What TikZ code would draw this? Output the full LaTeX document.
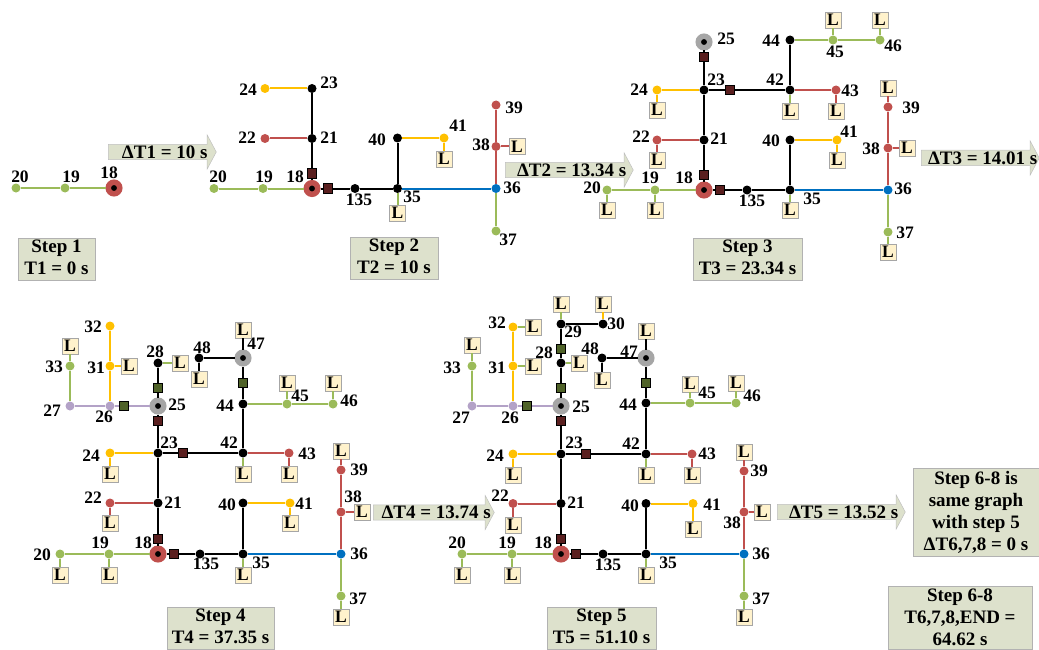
\documentclass[tikz,border=0pt]{standalone}
\usepackage{xcolor}
\usepackage{fontspec}
\setmainfont{Liberation Serif}
\usepackage{tikz}
\usetikzlibrary{shapes.arrows}

\definecolor{wirered}{HTML}{C0504D}
\definecolor{wiregreen}{HTML}{9BBB59}
\definecolor{wireyellow}{HTML}{FFC000}
\definecolor{wireblue}{HTML}{0070C0}
\definecolor{wirepurple}{HTML}{B3A2C7}
\definecolor{hubgray}{HTML}{A6A6A6}
\definecolor{sqred}{HTML}{5A1F1F}
\definecolor{sqgreen}{HTML}{4F6228}
\definecolor{loadfill}{HTML}{FFF2CC}
\definecolor{panelfill}{HTML}{DDE1CC}

\begin{document}
\begin{tikzpicture}[x=1pt, y=-1pt, node distance=49pt]

    \tikzstyle{busk}=[circle, inner sep=0pt, minimum size=9pt, fill=black]
    \tikzstyle{busr}=[busk, fill=wirered]
    \tikzstyle{busg}=[busk, fill=wiregreen]
    \tikzstyle{busy}=[busk, fill=wireyellow]
    \tikzstyle{busb}=[busk, fill=wireblue]
    \tikzstyle{busp}=[busk, fill=wirepurple]
    \tikzstyle{hubr}=[circle, inner sep=0pt, minimum size=11.5pt, line width=5.5pt, fill=black, draw=wirered]
    \tikzstyle{hubg}=[hubr, draw=hubgray]
    \tikzstyle{sqr}=[rectangle, inner sep=0pt, minimum size=9.5pt, line width=1pt, draw=black, fill=sqred]
    \tikzstyle{sqg}=[sqr, fill=sqgreen]
    \tikzstyle{load}=[rectangle, inner sep=0pt, minimum size=16pt, fill=loadfill, draw=black!35, line width=.6pt, font=\fontsize{17.5pt}{20pt}\selectfont\bfseries]
    \tikzstyle{num}=[inner sep=0pt, font=\fontsize{17.5pt}{20pt}\selectfont\bfseries]
    \tikzstyle{stepbox}=[rectangle, inner sep=0pt, fill=panelfill, draw=black!30, line width=.7pt, align=center, font=\fontsize{19pt}{22pt}\selectfont\bfseries]
    \tikzstyle{twoline}=[stepbox, minimum height=42pt, text depth=4pt]
    \tikzstyle{steparrow}=[single arrow, inner sep=0pt, minimum width=34pt, single arrow head extend=8pt, single arrow tip angle=124, fill=panelfill, draw=black!25, line width=.5pt, anchor=tail, font=\fontsize{19pt}{22pt}\selectfont\bfseries, execute at begin node={\hspace*{4.5pt}}, execute at end node={\hspace*{-4.5pt}}]
    \tikzstyle{wk}=[draw=black, line width=2pt]
    \tikzstyle{wr}=[draw=wirered, line width=2pt]
    \tikzstyle{wg}=[draw=wiregreen, line width=2pt]
    \tikzstyle{wy}=[draw=wireyellow, line width=2pt]
    \tikzstyle{wb}=[draw=wireblue, line width=2pt]
    \tikzstyle{wp}=[draw=wirepurple, line width=2pt]

    \useasboundingbox (0,0) rectangle (1039,650);

    % step 1
    \node[hubr] (A18) at (114,188) {};
    \node[busg] (A19) [left of=A18] {};
    \node[busg] (A20) [left of=A19] {};
    \node[num] (TA18) at (109,173) {18};
    \node[num] (TA19) at (71,177) {19};
    \node[num] (TA20) at (20,177) {20};
    \path (A20) edge [wg] (A19);
    \path (A19) edge [wg] (A18);
    \node[twoline, minimum width=77pt] (BOXA) at (56.5,259) {Step 1\\T1 = 0 s};
    \node[steparrow, minimum height=108pt] (ARROWA) at (108,152) {ΔT1 = 10 s};

    % step 2
    \node[hubr] (B18) at (312,188.5) {};
    \node[busg] (B19) [left of=B18] {};
    \node[busg] (B20) [left of=B19] {};
    \node[sqr] (SB18U) [above of=B18, node distance=15pt] {};
    \node[sqr] (SB18R) [right of=B18, node distance=16pt] {};
    \node[busk] (B21) [above of=B18, node distance=50pt] {};
    \node[busk] (B23) [above of=B21, node distance=50pt] {};
    \node[busr] (B22) [left of=B21, node distance=47pt] {};
    \node[busy] (B24) [left of=B23, node distance=47pt] {};
    \node[busk] (B135) [right of=B18, node distance=43pt] {};
    \node[busk] (B35) [right of=B135, node distance=42.5pt] {};
    \node[busb] (B36) [right of=B35, node distance=98.5pt] {};
    \node[busg] (B37) [below of=B36, node distance=42.5pt] {};
    \node[busr] (B38) [above of=B36, node distance=42pt] {};
    \node[busr] (B39) [above of=B38, node distance=41.5pt] {};
    \node[busk] (B40) [above of=B35, node distance=50.5pt] {};
    \node[busy] (B41) [right of=B40, node distance=46.5pt] {};
    \node[load] (LB35) [below of=B35, node distance=24.5pt] {L};
    \node[load] (LB41) [below of=B41, node distance=21pt] {L};
    \node[load] (LB38) [right of=B38, node distance=21pt] {L};
    \node[num] (TB18) at (295,177) {18};
    \node[num] (TB19) at (264,177) {19};
    \node[num] (TB20) at (218,177) {20};
    \node[num] (TB21) at (329,138) {21};
    \node[num] (TB22) at (247,138) {22};
    \node[num] (TB23) at (329,83) {23};
    \node[num] (TB24) at (248,90) {24};
    \node[num] (TB135) at (359,200) {135};
    \node[num] (TB35) at (412,197) {35};
    \node[num] (TB36) at (512,188) {36};
    \node[num] (TB37) at (508,240) {37};
    \node[num] (TB38) at (481,145) {38};
    \node[num] (TB39) at (514,108) {39};
    \node[num] (TB40) at (377,140) {40};
    \node[num] (TB41) at (458,126) {41};
    \path (B20) edge [wg] (B19);
    \path (B19) edge [wg] (B18);
    \path (B18) edge [wk] (SB18U)
                edge [wk] (SB18R);
    \path (SB18U) edge [wk] (B21);
    \path (SB18R) edge [wk] (B135);
    \path (B21) edge [wk] (B23)
                edge [wr] (B22);
    \path (B23) edge [wy] (B24);
    \path (B135) edge [wk] (B35);
    \path (B35) edge [wb] (B36)
                edge [wk] (B40)
                edge [wg] (LB35);
    \path (B40) edge [wy] (B41);
    \path (B41) edge [wy] (LB41);
    \path (B36) edge [wr] (B38)
                edge [wg] (B37);
    \path (B38) edge [wr] (B39)
                edge [wr] (LB38);
    \node[twoline, minimum width=88pt] (BOXB) at (394,258.5) {Step 2\\T2 = 10 s};
    \node[steparrow, minimum height=128pt] (ARROWB) at (505,170) {ΔT2 = 13.34 s};

    % step 3
    \node[hubr] (C18) at (704,190) {};
    \node[busg] (C19) [left of=C18] {};
    \node[busg] (C20) [left of=C19, node distance=48pt] {};
    \node[sqr] (SC18U) [above of=C18, node distance=15pt] {};
    \node[sqr] (SC18R) [right of=C18, node distance=16pt] {};
    \node[busk] (C21) [above of=C18, node distance=50pt] {};
    \node[busk] (C23) [above of=C21, node distance=50pt] {};
    \node[busr] (C22) [left of=C21, node distance=47pt] {};
    \node[busy] (C24) [left of=C23, node distance=47pt] {};
    \node[sqr] (SC25) [above of=C23, node distance=33pt] {};
    \node[hubg] (C25) [above of=C23, node distance=48pt] {};
    \node[sqr] (SC23) [right of=C23, node distance=26pt] {};
    \node[busk] (C42) [right of=C23, node distance=86pt] {};
    \node[busr] (C43) [right of=C42, node distance=46pt] {};
    \node[busk] (C44) [above of=C42, node distance=50pt] {};
    \node[busg] (C45) [right of=C44, node distance=43pt] {};
    \node[busg] (C46) [right of=C45, node distance=47pt] {};
    \node[busk] (C135) [right of=C18, node distance=43pt] {};
    \node[busk] (C35) [right of=C135, node distance=43pt] {};
    \node[busb] (C36) [right of=C35, node distance=98pt] {};
    \node[busg] (C37) [below of=C36, node distance=42pt] {};
    \node[busr] (C38) [above of=C36, node distance=42pt] {};
    \node[busr] (C39) [above of=C38, node distance=41pt] {};
    \node[busk] (C40) [above of=C35, node distance=50pt] {};
    \node[busy] (C41) [right of=C40, node distance=47pt] {};
    \node[load] (LC20) [below of=C20, node distance=20pt] {L};
    \node[load] (LC19) [below of=C19, node distance=20pt] {L};
    \node[load] (LC35) [below of=C35, node distance=20pt] {L};
    \node[load] (LC37) [below of=C37, node distance=20pt] {L};
    \node[load] (LC22) [below of=C22, node distance=20pt] {L};
    \node[load] (LC24) [below of=C24, node distance=20pt] {L};
    \node[load] (LC42) [below of=C42, node distance=21pt] {L};
    \node[load] (LC43) [below of=C43, node distance=21pt] {L};
    \node[load] (LC41) [below of=C41, node distance=20pt] {L};
    \node[load] (LC38) [right of=C38, node distance=19pt] {L};
    \node[load] (LC39) [above of=C39, node distance=19pt] {L};
    \node[load] (LC45) [above of=C45, node distance=20pt] {L};
    \node[load] (LC46) [above of=C46, node distance=20pt] {L};
    \node[num] (TC18) at (684,178) {18};
    \node[num] (TC19) at (650,178) {19};
    \node[num] (TC20) at (592,188) {20};
    \node[num] (TC21) at (719,139) {21};
    \node[num] (TC22) at (641,137) {22};
    \node[num] (TC23) at (716,80) {23};
    \node[num] (TC24) at (639,90) {24};
    \node[num] (TC25) at (726,39) {25};
    \node[num] (TC135) at (752,201) {135};
    \node[num] (TC35) at (812,199) {35};
    \node[num] (TC36) at (903,189) {36};
    \node[num] (TC37) at (905,233) {37};
    \node[num] (TC38) at (871,149) {38};
    \node[num] (TC39) at (911,108) {39};
    \node[num] (TC40) at (771,141) {40};
    \node[num] (TC41) at (849,132) {41};
    \node[num] (TC42) at (775,80) {42};
    \node[num] (TC43) at (850,91) {43};
    \node[num] (TC44) at (771,41) {44};
    \node[num] (TC45) at (835,52) {45};
    \node[num] (TC46) at (893,46) {46};
    \path (C20) edge [wg] (C19)
                edge [wg] (LC20);
    \path (C19) edge [wg] (C18)
                edge [wg] (LC19);
    \path (C18) edge [wk] (SC18U)
                edge [wk] (SC18R);
    \path (SC18U) edge [wk] (C21);
    \path (SC18R) edge [wk] (C135);
    \path (C21) edge [wk] (C23)
                edge [wr] (C22);
    \path (C22) edge [wr] (LC22);
    \path (C23) edge [wy] (C24)
                edge [wk] (SC25)
                edge [wk] (SC23);
    \path (C24) edge [wy] (LC24);
    \path (SC25) edge [wk] (C25);
    \path (SC23) edge [wk] (C42);
    \path (C42) edge [wr] (C43)
                edge [wk] (C44)
                edge [wg] (LC42);
    \path (C43) edge [wr] (LC43);
    \path (C44) edge [wg] (C45);
    \path (C45) edge [wg] (C46)
                edge [wg] (LC45);
    \path (C46) edge [wg] (LC46);
    \path (C135) edge [wk] (C35);
    \path (C35) edge [wb] (C36)
                edge [wk] (C40)
                edge [wg] (LC35);
    \path (C40) edge [wy] (C41);
    \path (C41) edge [wy] (LC41);
    \path (C36) edge [wr] (C38)
                edge [wg] (C37);
    \path (C37) edge [wg] (LC37);
    \path (C38) edge [wr] (C39)
                edge [wr] (LC38);
    \path (C39) edge [wr] (LC39);
    \node[twoline, minimum width=109pt] (BOXC) at (747.5,259) {Step 3\\T3 = 23.34 s};
    \node[steparrow, minimum height=118pt] (ARROWC) at (921,158) {ΔT3 = 14.01 s};

    % step 4
    \node[hubr] (D18) at (158,554) {};
    \node[busg] (D19) [left of=D18] {};
    \node[busg] (D20) [left of=D19] {};
    \node[sqr] (SD18U) [above of=D18, node distance=15pt] {};
    \node[sqr] (SD18R) [right of=D18, node distance=16pt] {};
    \node[busk] (D21) [above of=D18, node distance=51pt] {};
    \node[busk] (D23) [above of=D21, node distance=50pt] {};
    \node[busr] (D22) [left of=D21, node distance=48pt] {};
    \node[busy] (D24) [left of=D23, node distance=48pt] {};
    \node[sqr] (SD23) [right of=D23, node distance=25pt] {};
    \node[busk] (D42) [right of=D23, node distance=85pt] {};
    \node[busr] (D43) [right of=D42, node distance=46pt] {};
    \node[busk] (D44) [above of=D42, node distance=49pt] {};
    \node[busg] (D45) [right of=D44, node distance=44pt] {};
    \node[busg] (D46) [right of=D45, node distance=46pt] {};
    \node[sqg] (SD47) [above of=D44, node distance=21pt] {};
    \node[hubg] (D47) [above of=D44, node distance=46pt] {};
    \node[busk] (D48) [left of=D47, node distance=44pt] {};
    \node[sqr] (SD25) [above of=D23, node distance=32pt] {};
    \node[hubg] (D25) [above of=D23, node distance=47pt] {};
    \node[sqg] (SD28) [above of=D25, node distance=18pt] {};
    \node[busk] (D28) [above of=D25, node distance=43pt] {};
    \node[sqg] (SD26) [left of=D25, node distance=34pt] {};
    \node[busp] (D26) [left of=D25, node distance=48pt] {};
    \node[busp] (D27) [left of=D26, node distance=40pt] {};
    \node[busy] (D31) [above of=D26, node distance=40pt] {};
    \node[busy] (D32) [above of=D31, node distance=40pt] {};
    \node[busg] (D33) [above of=D27, node distance=40pt] {};
    \node[busk] (D135) [right of=D18, node distance=42pt] {};
    \node[busk] (D35) [right of=D135, node distance=43pt] {};
    \node[busb] (D36) [right of=D35, node distance=98pt] {};
    \node[busg] (D37) [below of=D36, node distance=42pt] {};
    \node[busr] (D38) [above of=D36, node distance=42pt] {};
    \node[busr] (D39) [above of=D38, node distance=42pt] {};
    \node[busk] (D40) [above of=D35, node distance=51pt] {};
    \node[busy] (D41) [right of=D40, node distance=47pt] {};
    \node[load] (LD20) [below of=D20, node distance=21pt] {L};
    \node[load] (LD19) [below of=D19, node distance=21pt] {L};
    \node[load] (LD35) [below of=D35, node distance=21pt] {L};
    \node[load] (LD37) [below of=D37, node distance=21pt] {L};
    \node[load] (LD22) [below of=D22, node distance=20pt] {L};
    \node[load] (LD24) [below of=D24, node distance=21pt] {L};
    \node[load] (LD42) [below of=D42, node distance=21pt] {L};
    \node[load] (LD43) [below of=D43, node distance=21pt] {L};
    \node[load] (LD41) [below of=D41, node distance=20pt] {L};
    \node[load] (LD38) [right of=D38, node distance=21pt] {L};
    \node[load] (LD39) [above of=D39, node distance=19pt] {L};
    \node[load] (LD45) [above of=D45, node distance=21pt] {L};
    \node[load] (LD46) [above of=D46, node distance=21pt] {L};
    \node[load] (LD47) [above of=D47, node distance=28pt] {L};
    \node[load] (LD48) [below of=D48, node distance=21pt] {L};
    \node[load] (LD28) [right of=D28, node distance=22pt] {L};
    \node[load] (LD31) [right of=D31, node distance=19pt] {L};
    \node[load] (LD33) [above of=D33, node distance=20pt] {L};
    \node[num] (TD18) at (143,543) {18};
    \node[num] (TD19) at (100,543) {19};
    \node[num] (TD20) at (42,555) {20};
    \node[num] (TD21) at (173,503) {21};
    \node[num] (TD22) at (93,498) {22};
    \node[num] (TD23) at (169,443) {23};
    \node[num] (TD24) at (91,456) {24};
    \node[num] (TD25) at (177,405) {25};
    \node[num] (TD26) at (104,417) {26};
    \node[num] (TD27) at (52,411) {27};
    \node[num] (TD28) at (155,352) {28};
    \node[num] (TD31) at (96,368) {31};
    \node[num] (TD32) at (93,327) {32};
    \node[num] (TD33) at (54,367) {33};
    \node[num] (TD135) at (206,564) {135};
    \node[num] (TD35) at (261,563) {35};
    \node[num] (TD36) at (359,554) {36};
    \node[num] (TD37) at (358,599) {37};
    \node[num] (TD38) at (353,497) {38};
    \node[num] (TD39) at (359,470) {39};
    \node[num] (TD40) at (227,505) {40};
    \node[num] (TD41) at (304,504) {41};
    \node[num] (TD42) at (229,443) {42};
    \node[num] (TD43) at (307,454) {43};
    \node[num] (TD44) at (225,406) {44};
    \node[num] (TD45) at (300,396) {45};
    \node[num] (TD46) at (349,401) {46};
    \node[num] (TD47) at (256,344) {47};
    \node[num] (TD48) at (202,348) {48};
    \path (D20) edge [wg] (D19)
                edge [wg] (LD20);
    \path (D19) edge [wg] (D18)
                edge [wg] (LD19);
    \path (D18) edge [wk] (SD18U)
                edge [wk] (SD18R);
    \path (SD18U) edge [wk] (D21);
    \path (SD18R) edge [wk] (D135);
    \path (D21) edge [wk] (D23)
                edge [wr] (D22);
    \path (D22) edge [wr] (LD22);
    \path (D23) edge [wy] (D24)
                edge [wk] (SD25)
                edge [wk] (SD23);
    \path (D24) edge [wy] (LD24);
    \path (SD25) edge [wk] (D25);
    \path (SD23) edge [wk] (D42);
    \path (D25) edge [wk] (SD28)
                edge [wp] (SD26);
    \path (SD28) edge [wk] (D28);
    \path (D28) edge [wg] (LD28);
    \path (SD26) edge [wp] (D26);
    \path (D26) edge [wp] (D27)
                edge [wy] (D31);
    \path (D31) edge [wy] (D32)
                edge [wy] (LD31);
    \path (D27) edge [wg] (D33);
    \path (D33) edge [wg] (LD33);
    \path (D42) edge [wr] (D43)
                edge [wk] (D44)
                edge [wg] (LD42);
    \path (D43) edge [wr] (LD43);
    \path (D44) edge [wg] (D45)
                edge [wk] (SD47);
    \path (D45) edge [wg] (D46)
                edge [wg] (LD45);
    \path (D46) edge [wg] (LD46);
    \path (SD47) edge [wk] (D47);
    \path (D47) edge [wk] (D48)
                edge [wk] (LD47);
    \path (D48) edge [wk] (LD48);
    \path (D135) edge [wk] (D35);
    \path (D35) edge [wb] (D36)
                edge [wk] (D40)
                edge [wg] (LD35);
    \path (D40) edge [wy] (D41);
    \path (D41) edge [wy] (LD41);
    \path (D36) edge [wr] (D38)
                edge [wg] (D37);
    \path (D37) edge [wg] (LD37);
    \path (D38) edge [wr] (D39)
                edge [wr] (LD38);
    \path (D39) edge [wr] (LD39);
    \node[twoline, minimum width=107pt] (BOXD) at (220.5,628.5) {Step 4\\T4 = 37.35 s};
    \node[steparrow, minimum height=121pt] (ARROWD) at (373,512.5) {ΔT4 = 13.74 s};

    % step 5
    \node[hubr] (E18) at (561,554) {};
    \node[busg] (E19) [left of=E18] {};
    \node[busg] (E20) [left of=E19, node distance=50pt] {};
    \node[sqr] (SE18U) [above of=E18, node distance=15pt] {};
    \node[sqr] (SE18R) [right of=E18, node distance=15pt] {};
    \node[busk] (E21) [above of=E18, node distance=50.5pt] {};
    \node[busk] (E23) [above of=E21, node distance=49.5pt] {};
    \node[busr] (E22) [left of=E21, node distance=48pt] {};
    \node[busy] (E24) [left of=E23, node distance=48pt] {};
    \node[sqr] (SE23) [right of=E23, node distance=25pt] {};
    \node[busk] (E42) [right of=E23, node distance=85pt] {};
    \node[busr] (E43) [right of=E42, node distance=46pt] {};
    \node[busk] (E44) [above of=E42, node distance=51pt] {};
    \node[busg] (E45) [right of=E44, node distance=44pt] {};
    \node[busg] (E46) [right of=E45, node distance=46pt] {};
    \node[sqg] (SE47) [above of=E44, node distance=20pt] {};
    \node[hubg] (E47) [above of=E44, node distance=45pt] {};
    \node[busk] (E48) [left of=E47, node distance=44pt] {};
    \node[sqr] (SE25D) [above of=E23, node distance=33pt] {};
    \node[hubg] (E25) [above of=E23, node distance=48pt] {};
    \node[sqg] (SE25U) [above of=E25, node distance=18pt] {};
    \node[busk] (E28) [above of=E25, node distance=43pt] {};
    \node[sqg] (SE28) [above of=E28, node distance=14pt] {};
    \node[busk] (E29) [above of=E28, node distance=39pt] {};
    \node[busk] (E30) [right of=E29, node distance=42pt] {};
    \node[sqg] (SE26) [left of=E25, node distance=34pt] {};
    \node[busp] (E26) [left of=E25, node distance=48pt] {};
    \node[busp] (E27) [left of=E26, node distance=41pt] {};
    \node[busy] (E31) [above of=E26, node distance=40pt] {};
    \node[busy] (E32) [above of=E31, node distance=39pt] {};
    \node[busg] (E33) [above of=E27, node distance=40pt] {};
    \node[busk] (E135) [right of=E18, node distance=42pt] {};
    \node[busk] (E35) [right of=E135, node distance=43pt] {};
    \node[busb] (E36) [right of=E35, node distance=98pt] {};
    \node[busg] (E37) [below of=E36, node distance=42pt] {};
    \node[busr] (E38) [above of=E36, node distance=42pt] {};
    \node[busr] (E39) [above of=E38, node distance=41pt] {};
    \node[busk] (E40) [above of=E35, node distance=50.5pt] {};
    \node[busy] (E41) [right of=E40, node distance=47pt] {};
    \node[load] (LE20) [below of=E20, node distance=21pt] {L};
    \node[load] (LE19) [below of=E19, node distance=21pt] {L};
    \node[load] (LE35) [below of=E35, node distance=21pt] {L};
    \node[load] (LE37) [below of=E37, node distance=21pt] {L};
    \node[load] (LE22) [below of=E22, node distance=21.5pt] {L};
    \node[load] (LE24) [below of=E24, node distance=21pt] {L};
    \node[load] (LE42) [below of=E42, node distance=21pt] {L};
    \node[load] (LE43) [below of=E43, node distance=21pt] {L};
    \node[load] (LE41) [below of=E41, node distance=25.5pt] {L};
    \node[load] (LE38) [right of=E38, node distance=18pt] {L};
    \node[load] (LE39) [above of=E39, node distance=19pt] {L};
    \node[load] (LE45) [above of=E45, node distance=19pt] {L};
    \node[load] (LE46) [above of=E46, node distance=20pt] {L};
    \node[load] (LE47) [above of=E47, node distance=27pt] {L};
    \node[load] (LE48) [below of=E48, node distance=22pt] {L};
    \node[load] (LE28) [right of=E28, node distance=18pt] {L};
    \node[load] (LE29) [above of=E29, node distance=20pt] {L};
    \node[load] (LE30) [above of=E30, node distance=20pt] {L};
    \node[load] (LE31) [right of=E31, node distance=20pt] {L};
    \node[load] (LE32) [right of=E32, node distance=20pt] {L};
    \node[load] (LE33) [above of=E33, node distance=21pt] {L};
    \node[num] (TE18) at (543,543) {18};
    \node[num] (TE19) at (507,543) {19};
    \node[num] (TE20) at (457,543) {20};
    \node[num] (TE21) at (576,503) {21};
    \node[num] (TE22) at (500,496) {22};
    \node[num] (TE23) at (574,443) {23};
    \node[num] (TE24) at (495,456) {24};
    \node[num] (TE25) at (581,407) {25};
    \node[num] (TE26) at (510,418) {26};
    \node[num] (TE27) at (461,418) {27};
    \node[num] (TE28) at (544,353) {28};
    \node[num] (TE29) at (573,332) {29};
    \node[num] (TE30) at (616,324) {30};
    \node[num] (TE31) at (497,368) {31};
    \node[num] (TE32) at (497,323) {32};
    \node[num] (TE33) at (452,368) {33};
    \node[num] (TE135) at (608,565) {135};
    \node[num] (TE35) at (668,563) {35};
    \node[num] (TE36) at (761,554) {36};
    \node[num] (TE37) at (761,599) {37};
    \node[num] (TE38) at (732,523) {38};
    \node[num] (TE39) at (759,471) {39};
    \node[num] (TE40) at (630,506) {40};
    \node[num] (TE41) at (712,505) {41};
    \node[num] (TE42) at (631,444) {42};
    \node[num] (TE43) at (707,454) {43};
    \node[num] (TE44) at (628,405) {44};
    \node[num] (TE45) at (707,393) {45};
    \node[num] (TE46) at (752,396) {46};
    \node[num] (TE47) at (629,352) {47};
    \node[num] (TE48) at (590,348.5) {48};
    \path (E20) edge [wg] (E19)
                edge [wg] (LE20);
    \path (E19) edge [wg] (E18)
                edge [wg] (LE19);
    \path (E18) edge [wk] (SE18U)
                edge [wk] (SE18R);
    \path (SE18U) edge [wk] (E21);
    \path (SE18R) edge [wk] (E135);
    \path (E21) edge [wk] (E23)
                edge [wr] (E22);
    \path (E22) edge [wr] (LE22);
    \path (E23) edge [wy] (E24)
                edge [wk] (SE25D)
                edge [wk] (SE23);
    \path (E24) edge [wy] (LE24);
    \path (SE25D) edge [wk] (E25);
    \path (SE23) edge [wk] (E42);
    \path (E25) edge [wk] (SE25U)
                edge [wp] (SE26);
    \path (SE25U) edge [wk] (E28);
    \path (E28) edge [wk] (SE28)
                edge [wg] (LE28);
    \path (SE28) edge [wk] (E29);
    \path (E29) edge [wk] (E30)
                edge [wg] (LE29);
    \path (E30) edge [wy] (LE30);
    \path (SE26) edge [wp] (E26);
    \path (E26) edge [wp] (E27)
                edge [wy] (E31);
    \path (E31) edge [wy] (E32)
                edge [wg] (LE31);
    \path (E32) edge [wg] (LE32);
    \path (E27) edge [wg] (E33);
    \path (E33) edge [wg] (LE33);
    \path (E42) edge [wr] (E43)
                edge [wk] (E44)
                edge [wg] (LE42);
    \path (E43) edge [wr] (LE43);
    \path (E44) edge [wg] (E45)
                edge [wk] (SE47);
    \path (E45) edge [wg] (E46)
                edge [wg] (LE45);
    \path (E46) edge [wg] (LE46);
    \path (SE47) edge [wk] (E47);
    \path (E47) edge [wk] (E48)
                edge [wk] (LE47);
    \path (E48) edge [wk] (LE48);
    \path (E135) edge [wk] (E35);
    \path (E35) edge [wb] (E36)
                edge [wk] (E40)
                edge [wg] (LE35);
    \path (E40) edge [wy] (E41);
    \path (E41) edge [wy] (LE41);
    \path (E36) edge [wr] (E38)
                edge [wg] (E37);
    \path (E37) edge [wg] (LE37);
    \path (E38) edge [wr] (E39)
                edge [wr] (LE38);
    \path (E39) edge [wr] (LE39);
    \node[twoline, minimum width=109pt] (BOXE) at (601.5,628.5) {Step 5\\T5 = 51.10 s};
    \node[steparrow, minimum height=128pt] (ARROWE) at (777,512) {ΔT5 = 13.52 s};

    % step 6-8
    \node[stepbox, minimum width=126pt, minimum height=88pt] (BOXF) at (976,512) {Step 6-8 is\\same graph\\with step 5\\ΔT6,7,8 = 0 s};
    \node[stepbox, minimum width=144pt, minimum height=63pt] (BOXG) at (960,617.5) {Step 6-8\\T6,7,8,END =\\64.62 s};

  \end{tikzpicture}
\end{document}
